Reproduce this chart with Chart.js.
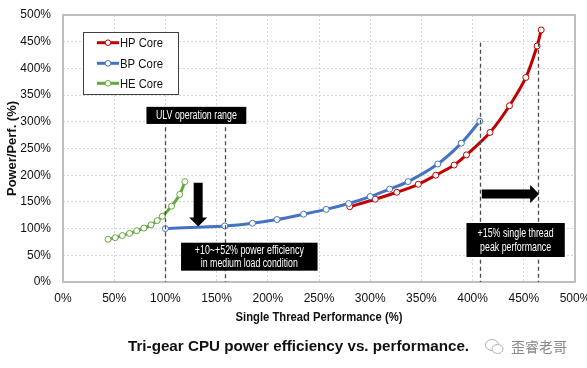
<!DOCTYPE html>
<html><head><meta charset="utf-8">
<script src="https://cdn.jsdelivr.net/npm/chart.js@4/dist/chart.umd.min.js"></script>
<style>
html,body{margin:0;padding:0;background:#fff;}
#wrap{position:relative;width:587px;height:368px;overflow:hidden;}
canvas{position:absolute;left:0;top:0;}
#caption{position:absolute;left:128px;top:336px;font-family:'Liberation Sans',Arial,sans-serif;font-weight:bold;font-size:15.5px;line-height:20px;color:#111;white-space:nowrap;transform:scaleX(0.98);transform-origin:0 0;}
#wm{position:absolute;left:484px;top:336px;font-family:'Noto Sans CJK SC',sans-serif;font-size:14px;line-height:20px;color:#8a8a8a;white-space:nowrap;}
#wm svg{vertical-align:-3px;margin-right:7px;}
</style></head>
<body>
<div id="wrap">
<canvas id="c" width="587" height="368"></canvas>
<div id="caption">Tri-gear CPU power efficiency vs. performance.</div>
<div id="wm"><svg width="20" height="17" viewBox="0 0 20 17"><ellipse cx="8" cy="7" rx="6.5" ry="5.5" fill="none" stroke="#b0b0b0" stroke-width="1"/><ellipse cx="13.5" cy="11" rx="5.5" ry="4.5" fill="#fff" stroke="#b0b0b0" stroke-width="1"/></svg>歪睿老哥</div>
</div>
<script>
// ---- data ----
const hpX = [280, 305, 326, 347, 364, 382, 394, 417, 436, 452, 463, 467];
const hpY = [141, 155, 168, 183, 200, 219, 238, 280, 330, 383, 442, 472];
const bpX = [100, 158, 185, 209, 235, 257, 279, 300, 319, 337, 366, 389, 407];
const bpY = [100, 105, 110, 117, 127, 136, 147, 160, 174, 188, 221, 260, 301];
const heX = [44, 51, 58, 65, 72, 79, 86, 92, 97, 106, 114, 119];
const heY = [80, 83, 87, 91, 96, 101, 107, 115, 123, 142, 164, 188];
const seriesNames = ['HP Core', 'BP Core', 'HE Core'];
const xTicks = [0, 50, 100, 150, 200, 250, 300, 350, 400, 450, 500];
const yTicks = [0, 50, 100, 150, 200, 250, 300, 350, 400, 450, 500];
const xTitle = 'Single Thread Performance (%)';
const yTitle = 'Power/Perf. (%)';

const FONT = "'Liberation Sans',Arial,sans-serif";
const colors = {hp:'#C00000', bp:'#4472C4', he:'#62A83F'};

function pts(xs, ys){ return xs.map((x,i)=>({x:x, y:ys[i]})); }

// annotation layout (data units)
const guides = [
  {x:100, top:290}, {x:158, top:290},
  {x:407, top:448}, {x:464, top:448}
];
const boxes = [
  {x1:81.5, x2:179, y1:328, y2:296, lines:[['ULV operation range', 81]]},
  {x1:115.3, x2:248.6, y1:73.6, y2:21.2, lines:[['+10~+52% power efficiency', 109], ['in medium load condition', 97]]},
  {x1:394, x2:490, y1:110.5, y2:46.8, lines:[['+15% single thread', 76], ['peak performance', 71]]}
];
const downArrow = {x:132, top:186, tip:104};
const rightArrow = {y:165, from:409, tip:465};

const annPlugin = {
  id:'ann',
  beforeDatasetsDraw(chart){
    const {ctx, chartArea:a} = chart;
    ctx.save();
    ctx.strokeStyle = '#bfbfbf';
    ctx.lineWidth = 2;
    ctx.strokeRect(a.left, a.top, a.right-a.left, a.bottom-a.top);
    ctx.restore();
  },
  afterDatasetsDraw(chart){
    const {ctx, chartArea:a, scales:{x, y}} = chart;
    ctx.save();
    // dashed guides
    ctx.strokeStyle = '#4a4a4a';
    ctx.lineWidth = 1.3;
    ctx.setLineDash([4,3]);
    guides.forEach(g=>{
      const px = Math.round(x.getPixelForValue(g.x))+0.5;
      ctx.beginPath();
      ctx.moveTo(px, y.getPixelForValue(g.top));
      ctx.lineTo(px, y.getPixelForValue(0));
      ctx.stroke();
    });
    ctx.setLineDash([]);
    // boxes
    boxes.forEach(b=>{
      const l = x.getPixelForValue(b.x1), r = x.getPixelForValue(b.x2);
      const t = y.getPixelForValue(b.y1), bt = y.getPixelForValue(b.y2);
      ctx.fillStyle = '#000';
      ctx.fillRect(l, t, r-l, bt-t);
      ctx.fillStyle = '#fff';
      ctx.font = '12.5px ' + FONT;
      ctx.textAlign = 'center';
      ctx.textBaseline = 'middle';
      const cx = (l+r)/2, cy = (t+bt)/2, lh = 13.5;
      b.lines.forEach((s,i)=>{
        ctx.fillText(s[0], cx, cy + 0.5 + (i-(b.lines.length-1)/2)*lh, s[1]);
      });
    });
    // down arrow
    ctx.fillStyle = '#000';
    {
      const cx = x.getPixelForValue(downArrow.x);
      const top = y.getPixelForValue(downArrow.top);
      const tip = y.getPixelForValue(downArrow.tip);
      const sw = 4.5, hw = 9, hl = 9;
      ctx.beginPath();
      ctx.moveTo(cx-sw, top); ctx.lineTo(cx+sw, top);
      ctx.lineTo(cx+sw, tip-hl); ctx.lineTo(cx+hw, tip-hl);
      ctx.lineTo(cx, tip); ctx.lineTo(cx-hw, tip-hl);
      ctx.lineTo(cx-sw, tip-hl); ctx.closePath(); ctx.fill();
    }
    {
      const cy = y.getPixelForValue(rightArrow.y);
      const from = x.getPixelForValue(rightArrow.from);
      const tip = x.getPixelForValue(rightArrow.tip);
      const sh = 4.5, hh = 9, hl = 9;
      ctx.beginPath();
      ctx.moveTo(from, cy-sh); ctx.lineTo(tip-hl, cy-sh);
      ctx.lineTo(tip-hl, cy-hh); ctx.lineTo(tip, cy);
      ctx.lineTo(tip-hl, cy+hh); ctx.lineTo(tip-hl, cy+sh);
      ctx.lineTo(from, cy+sh); ctx.closePath(); ctx.fill();
    }
    // legend
    const lx = 83.5, ly = 32.5, lw = 95, lhh = 62;
    ctx.fillStyle = '#fff';
    ctx.fillRect(lx, ly, lw, lhh);
    ctx.strokeStyle = '#404040';
    ctx.lineWidth = 1;
    ctx.strokeRect(lx, ly, lw, lhh);
    const rows = [42.7, 63.3, 83.3];
    const dsOrder = [2, 1, 0];
    rows.forEach((ry,i)=>{
      const ds = chart.data.datasets[dsOrder[i]];
      ctx.strokeStyle = ds.borderColor;
      ctx.lineWidth = 3;
      ctx.beginPath(); ctx.moveTo(97, ry); ctx.lineTo(119, ry); ctx.stroke();
      ctx.fillStyle = '#fff'; ctx.lineWidth = 1;
      ctx.beginPath(); ctx.arc(108, ry, 2.8, 0, Math.PI*2); ctx.fill(); ctx.stroke();
      ctx.fillStyle = '#111';
      ctx.font = '13.5px ' + FONT;
      ctx.textAlign = 'left'; ctx.textBaseline = 'middle';
      ctx.fillText(ds.label, 120, ry+0.5, 43);
    });
    // axis titles
    ctx.fillStyle = '#111';
    ctx.font = 'bold 13.5px ' + FONT;
    ctx.textAlign = 'center'; ctx.textBaseline = 'middle';
    ctx.fillText(xTitle, (a.left+a.right)/2, 317, 167);
    ctx.save();
    ctx.translate(12, (a.top+a.bottom)/2);
    ctx.rotate(-Math.PI/2);
    ctx.fillText(yTitle, 0, 0, 95);
    ctx.restore();
    ctx.restore();
  }
};

const mk = (label, data, color) => ({
  label, data, borderColor: color, backgroundColor: color,
  showLine: true, borderWidth: 3, tension: 0.3,
  pointRadius: 3, pointHoverRadius: 3, pointBorderWidth: 1,
  pointBackgroundColor: '#fff', pointBorderColor: color
});

new Chart(document.getElementById('c'), {
  type: 'scatter',
  data: {
    datasets: [
      mk(seriesNames[2], pts(heX, heY), colors.he),
      mk(seriesNames[1], pts(bpX, bpY), colors.bp),
      mk(seriesNames[0], pts(hpX, hpY), colors.hp)
    ]
  },
  options: {
    responsive: false, animation: false,
    layout: { autoPadding: false, padding: {left: 0, top: 15, right: 12, bottom: 40} },
    plugins: { legend: {display: false}, tooltip: {enabled: false} },
    scales: {
      x: {
        type: 'linear', min: 0, max: 500,
        afterBuildTicks(s){ s.ticks = xTicks.map(v=>({value:v})); },
        afterFit(s){ s.height = 46; s.paddingLeft = 0; s.paddingRight = 0; },
        ticks: { callback: v => v + '%', padding: 9, color: '#111', font: {family: FONT, size: 12}, maxRotation: 0, autoSkip: false },
        grid: { color: '#d6d6d6', lineWidth: 1, drawTicks: false },
        border: { display: false, dash: [2,2] },
        title: { display: false }
      },
      y: {
        type: 'linear', min: 0, max: 500,
        afterBuildTicks(s){ s.ticks = yTicks.map(v=>({value:v})); },
        afterFit(s){ s.width = 63; s.paddingTop = 0; s.paddingBottom = 0; },
        ticks: { callback: v => v + '%', padding: 12, color: '#111', font: {family: FONT, size: 12}, autoSkip: false },
        grid: { color: '#d6d6d6', lineWidth: 1, drawTicks: false },
        border: { display: false, dash: [2,2] },
        title: { display: false }
      }
    }
  },
  plugins: [annPlugin]
});
</script>
</body></html>
